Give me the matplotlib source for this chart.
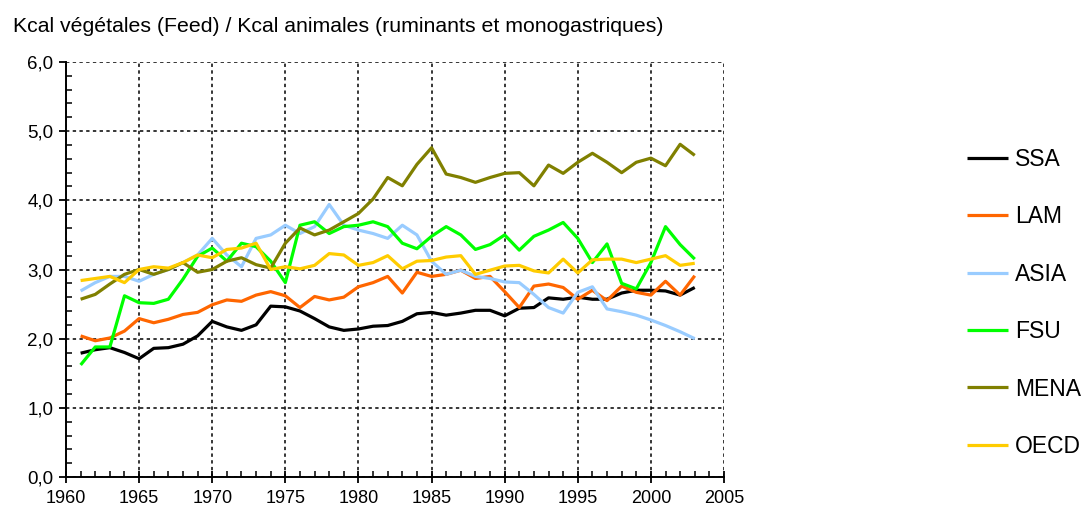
"""
plot.py
-------
Ratio of vegetal feed kcal to animal kcal by world region, 1961-2003.
"""

import matplotlib
matplotlib.use('Agg')
import matplotlib.pyplot as plt
from matplotlib.ticker import MultipleLocator, FuncFormatter

plt.rcParams['font.family'] = ['Liberation Sans', 'DejaVu Sans']

years = list(range(1961, 2004))

ssa = [1.79, 1.84, 1.87, 1.80, 1.71, 1.86, 1.87, 1.92, 2.04, 2.25,
       2.17, 2.12, 2.20, 2.47, 2.46, 2.40, 2.29, 2.17, 2.12, 2.14,
       2.18, 2.19, 2.25, 2.36, 2.38, 2.34, 2.37, 2.41, 2.41, 2.33,
       2.44, 2.45, 2.59, 2.57, 2.60, 2.57, 2.57, 2.66, 2.70, 2.70,
       2.69, 2.63, 2.74]
lam = [2.04, 1.97, 2.01, 2.11, 2.29, 2.23, 2.28, 2.35, 2.38, 2.49,
       2.56, 2.54, 2.63, 2.68, 2.62, 2.45, 2.61, 2.56, 2.60, 2.75,
       2.81, 2.90, 2.66, 2.96, 2.90, 2.93, 2.99, 2.87, 2.90, 2.68,
       2.45, 2.76, 2.79, 2.74, 2.57, 2.70, 2.55, 2.76, 2.67, 2.63,
       2.83, 2.63, 2.91]
asia = [2.69, 2.81, 2.90, 2.90, 2.83, 2.93, 3.00, 3.10, 3.21, 3.45,
        3.21, 3.04, 3.45, 3.50, 3.64, 3.52, 3.62, 3.94, 3.64, 3.57,
        3.52, 3.45, 3.64, 3.50, 3.12, 2.93, 2.99, 2.90, 2.87, 2.82,
        2.81, 2.64, 2.45, 2.37, 2.67, 2.75, 2.43, 2.39, 2.34, 2.27,
        2.19, 2.10, 2.00]
fsu = [1.62, 1.88, 1.88, 2.62, 2.52, 2.51, 2.57, 2.86, 3.19, 3.31,
       3.12, 3.38, 3.33, 3.12, 2.81, 3.64, 3.69, 3.52, 3.62, 3.64,
       3.69, 3.62, 3.38, 3.30, 3.48, 3.62, 3.50, 3.29, 3.36, 3.50,
       3.28, 3.48, 3.57, 3.68, 3.45, 3.10, 3.37, 2.80, 2.72, 3.10,
       3.62, 3.36, 3.15]
mena = [2.57, 2.64, 2.79, 2.93, 3.00, 2.93, 3.00, 3.10, 2.96, 3.00,
        3.12, 3.17, 3.07, 3.02, 3.38, 3.60, 3.50, 3.57, 3.69, 3.81,
        4.02, 4.33, 4.21, 4.52, 4.76, 4.38, 4.33, 4.26, 4.33, 4.39,
        4.40, 4.21, 4.51, 4.39, 4.55, 4.68, 4.55, 4.40, 4.55, 4.61,
        4.50, 4.81, 4.65]
oecd = [2.84, 2.87, 2.90, 2.81, 3.00, 3.04, 3.02, 3.10, 3.21, 3.17,
        3.29, 3.31, 3.38, 3.00, 3.04, 3.01, 3.06, 3.23, 3.21, 3.06,
        3.10, 3.20, 3.01, 3.12, 3.13, 3.18, 3.20, 2.93, 2.99, 3.05,
        3.06, 2.98, 2.95, 3.15, 2.95, 3.14, 3.15, 3.15, 3.10, 3.15,
        3.20, 3.06, 3.09]

# (label, values, colour)
SERIES = [
    ('SSA', ssa, 'black'),
    ('LAM', lam, '#FF6600'),
    ('ASIA', asia, '#99CCFF'),
    ('FSU', fsu, '#00FF00'),
    ('MENA', mena, '#808000'),
    ('OECD', oecd, '#FFCC00'),
]

fig = plt.figure(figsize=(10.84, 5.11), dpi=100)
ax = fig.add_axes([66 / 1084, 1 - 477 / 511, (724 - 66) / 1084, (477 - 62) / 511])

for label, values, color in SERIES:
    ax.plot(years, values, color=color, lw=2.3, label=label,
            solid_joinstyle='round', solid_capstyle='butt', clip_on=False)

ax.set_xlim(1960, 2005)
ax.set_ylim(0, 6)
ax.xaxis.set_major_locator(MultipleLocator(5))
ax.xaxis.set_minor_locator(MultipleLocator(1))
ax.yaxis.set_major_locator(MultipleLocator(1))
ax.yaxis.set_minor_locator(MultipleLocator(0.2))
ax.yaxis.set_major_formatter(FuncFormatter(lambda v, _: f'{v:.1f}'.replace('.', ',')))

ax.grid(True, which='major', color='black', lw=1.1, linestyle=(0, (2.2, 2.2)))
ax.set_axisbelow(True)

for side in ('top', 'right'):
    ax.spines[side].set_visible(False)
for side in ('left', 'bottom'):
    ax.spines[side].set_linewidth(1.4)

ax.tick_params(axis='both', which='major', labelsize=13, width=1.3, color='black')
ax.tick_params(axis='y', which='major', direction='out', length=5, pad=4, labelsize=13.5)
ax.tick_params(axis='y', which='minor', direction='in', length=4, width=1.1)
ax.tick_params(axis='x', which='major', direction='inout', length=9, pad=5)
ax.tick_params(axis='x', which='minor', direction='in', length=4, width=1.1)

fig.text(13 / 1084, 1 - 32 / 511, 'Kcal végétales (Feed) / Kcal animales (ruminants et monogastriques)',
         fontsize=15.3, va='baseline', ha='left')

fig.legend(loc='upper left', bbox_to_anchor=(967 / 1084, 1 - 148 / 511),
           frameon=False, fontsize=16.5, handlelength=1.8, handletextpad=0.3,
           labelspacing=1.5, borderpad=0, borderaxespad=0)

fig.savefig('out.png', dpi=100)
plt.close(fig)
